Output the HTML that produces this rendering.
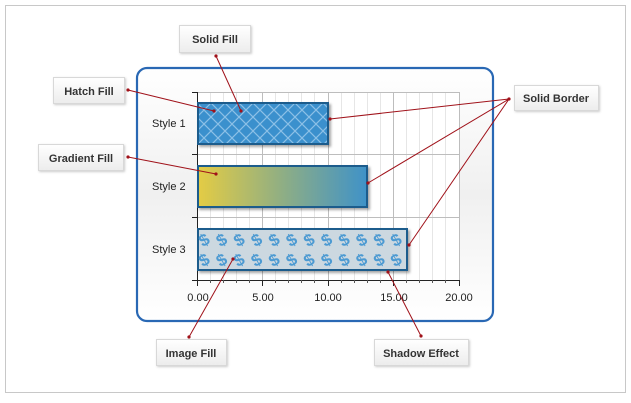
<!DOCTYPE html>
<html><head><meta charset="utf-8"><style>
html,body{margin:0;padding:0;background:#fff;width:631px;height:403px;overflow:hidden}
svg{display:block}
.lb{font-family:"Liberation Sans",sans-serif;font-size:11px;font-weight:bold;fill:#333}
.ax{font-family:"Liberation Sans",sans-serif;font-size:11px;fill:#222}
</style></head><body>
<svg width="631" height="403" viewBox="0 0 631 403" xmlns="http://www.w3.org/2000/svg">
<defs>
<linearGradient id="pg" x1="0" y1="0" x2="0" y2="1"><stop offset="0" stop-color="#fff"/><stop offset="0.5" stop-color="#f0f0f0"/><stop offset="1" stop-color="#fff"/></linearGradient>
<linearGradient id="bx" x1="0" y1="0" x2="0" y2="1"><stop offset="0" stop-color="#fff"/><stop offset="1" stop-color="#ececec"/></linearGradient>
<linearGradient id="gr" x1="0" y1="0" x2="1" y2="0"><stop offset="0" stop-color="#e4cc44"/><stop offset="0.5" stop-color="#8fae84"/><stop offset="1" stop-color="#3f92c8"/></linearGradient>
<pattern id="hp" width="14" height="14" patternUnits="userSpaceOnUse" x="197" y="103">
<rect width="14" height="14" fill="#3a90cd"/>
<path d="M0 0L14 14M14 0L0 14" stroke="#8cc0e6" stroke-width="1.2"/>
</pattern>
<filter id="sh" x="-5%" y="-5%" width="115%" height="130%"><feDropShadow dx="2" dy="2" stdDeviation="1.2" flood-color="#000" flood-opacity="0.35"/></filter>
<filter id="bs" x="-10%" y="-10%" width="125%" height="140%"><feDropShadow dx="1" dy="1" stdDeviation="1" flood-color="#000" flood-opacity="0.2"/></filter>
</defs>
<rect x="5.5" y="5.5" width="620" height="387" fill="#fff" stroke="#c8c8c8"/>
<rect x="137" y="68" width="356" height="253" rx="10" fill="url(#pg)" stroke="#2968b4" stroke-width="2.2"/>
<rect x="197" y="92" width="263" height="188" fill="#fff"/>
<g stroke="#e6e6e6" stroke-width="1" fill="none">
<path d="M210.5 92V280M223.5 92V280M236.5 92V280M249.5 92V280M275.5 92V280M288.5 92V280M301.5 92V280M314.5 92V280M341.5 92V280M354.5 92V280M367.5 92V280M380.5 92V280M406.5 92V280M419.5 92V280M432.5 92V280M445.5 92V280"/>
</g>
<g stroke="#bdbdbd" stroke-width="1" fill="none">
<path d="M262.5 92V280M328.5 92V280M393.5 92V280M459.5 92V280M197 92.5H460M197 154.5H460M197 217.5H460"/>
</g>
<g stroke="#222" stroke-width="1" fill="none">
<path d="M197.5 92V280.5H460"/>
<path d="M192 92.5H197M192 154.5H197M192 217.5H197M192 280.5H197"/>
<path d="M197.5 280V286M262.5 280V286M328.5 280V286M393.5 280V286M459.5 280V286"/>
</g>
<g stroke="#555" stroke-width="1" fill="none"><path d="M210.5 280v3M223.5 280v3M236.5 280v3M249.5 280v3M275.5 280v3M288.5 280v3M301.5 280v3M314.5 280v3M341.5 280v3M354.5 280v3M367.5 280v3M380.5 280v3M406.5 280v3M419.5 280v3M432.5 280v3M445.5 280v3"/></g>
<rect x="198" y="103" width="130" height="41" fill="url(#hp)" stroke="#1b5b8c" stroke-width="2" filter="url(#sh)"/>
<rect x="198" y="166" width="169" height="41" fill="url(#gr)" stroke="#1b5b8c" stroke-width="2" filter="url(#sh)"/>
<rect x="198" y="229" width="209" height="41" fill="#ccd8e0" stroke="#1b5b8c" stroke-width="2" filter="url(#sh)"/>
<g font-family="Liberation Sans,sans-serif" font-size="17" font-weight="bold" fill="#4c9ad2" text-anchor="middle">
<text transform="translate(207 245) rotate(-30)">$</text><text transform="translate(224.5 245) rotate(-30)">$</text><text transform="translate(242 245) rotate(-30)">$</text><text transform="translate(259.5 245) rotate(-30)">$</text><text transform="translate(277 245) rotate(-30)">$</text><text transform="translate(294.5 245) rotate(-30)">$</text><text transform="translate(312 245) rotate(-30)">$</text><text transform="translate(329.5 245) rotate(-30)">$</text><text transform="translate(347 245) rotate(-30)">$</text><text transform="translate(364.5 245) rotate(-30)">$</text><text transform="translate(382 245) rotate(-30)">$</text><text transform="translate(399 245) rotate(-30)">$</text>
<text transform="translate(207 265) rotate(-30)">$</text><text transform="translate(224.5 265) rotate(-30)">$</text><text transform="translate(242 265) rotate(-30)">$</text><text transform="translate(259.5 265) rotate(-30)">$</text><text transform="translate(277 265) rotate(-30)">$</text><text transform="translate(294.5 265) rotate(-30)">$</text><text transform="translate(312 265) rotate(-30)">$</text><text transform="translate(329.5 265) rotate(-30)">$</text><text transform="translate(347 265) rotate(-30)">$</text><text transform="translate(364.5 265) rotate(-30)">$</text><text transform="translate(382 265) rotate(-30)">$</text><text transform="translate(399 265) rotate(-30)">$</text>
</g>
<text class="ax" x="152" y="127">Style 1</text>
<text class="ax" x="152" y="190">Style 2</text>
<text class="ax" x="152" y="253">Style 3</text>
<g class="ax" text-anchor="middle"><text x="198" y="301">0.00</text><text x="263" y="301">5.00</text><text x="328" y="301">10.00</text><text x="394" y="301">15.00</text><text x="459" y="301">20.00</text></g>
<g filter="url(#bs)" fill="url(#bx)" stroke="#d8d8d8">
<rect x="179.5" y="25.5" width="71" height="27"/>
<rect x="53.5" y="77.5" width="71" height="26"/>
<rect x="38.5" y="144.5" width="85" height="26"/>
<rect x="514.5" y="85.5" width="84" height="25"/>
<rect x="156.5" y="339.5" width="70" height="26"/>
<rect x="374.5" y="339.5" width="94" height="26"/>
</g>
<g class="lb" text-anchor="middle">
<text x="215" y="43">Solid Fill</text><text x="89" y="95">Hatch Fill</text><text x="81" y="162">Gradient Fill</text><text x="556" y="102">Solid Border</text><text x="191" y="357">Image Fill</text><text x="421" y="357">Shadow Effect</text>
</g>
<g stroke="#a0121a" stroke-width="1" fill="none">
<path d="M216 56L241 111M128 90L214 111M128 157L216 174M509 99L330 119M509 99L368 183M509 99L409 245M189 337L233 259M421 336L388 272"/>
</g>
<g fill="#a0121a">
<circle cx="216" cy="56" r="1.6"/><circle cx="241" cy="111" r="1.6"/><circle cx="128" cy="90" r="1.6"/><circle cx="214" cy="111" r="1.6"/><circle cx="128" cy="157" r="1.6"/><circle cx="216" cy="174" r="1.6"/><circle cx="509" cy="99" r="1.6"/><circle cx="330" cy="119" r="1.6"/><circle cx="368" cy="183" r="1.6"/><circle cx="409" cy="245" r="1.6"/><circle cx="189" cy="337" r="1.6"/><circle cx="233" cy="259" r="1.6"/><circle cx="421" cy="336" r="1.6"/><circle cx="388" cy="272" r="1.6"/>
</g>
</svg>
</body></html>
